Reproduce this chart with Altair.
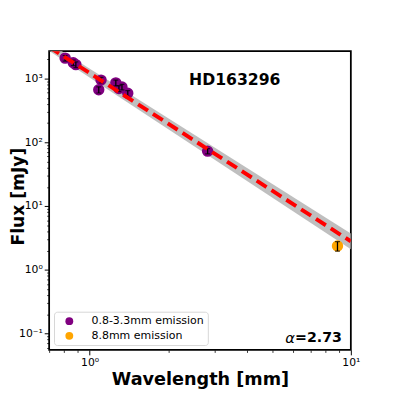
import altair as alt
import pandas as pd

# ---- data ----
wl_main = [0.806, 0.866, 0.886, 1.084, 1.106, 1.26, 1.295, 1.33, 1.40, 2.83]
flux_main = [2100, 1780, 1660, 670, 950, 860, 700, 740, 590, 72.7]
ferr_main = [210, 180, 170, 75, 95, 90, 75, 75, 60, 7]
wl_88 = [8.89]
flux_88 = [2.36]
ferr_88 = [0.4]

fit_wl = [0.7, 10.0]
fit_flux = [3140, 2.79]
band_lo = [2726, 2.10]
band_hi = [3617, 3.70]

groups = ["0.8-3.3mm emission", "8.8mm emission"]
colors = ["#800080", "#ffa500"]

x_major = [1, 10]
x_minor = [0.7, 0.8, 0.9, 2, 3, 4, 5, 6, 7, 8, 9]
y_major = [0.1, 1, 10, 100, 1000]
y_minor = [0.06, 0.07, 0.08, 0.09,
           0.2, 0.3, 0.4, 0.5, 0.6, 0.7, 0.8, 0.9,
           2, 3, 4, 5, 6, 7, 8, 9,
           20, 30, 40, 50, 60, 70, 80, 90,
           200, 300, 400, 500, 600, 700, 800, 900, 2000]

FONT = "DejaVu Sans"

pts = pd.DataFrame({
    "wl": wl_main + wl_88,
    "flux": flux_main + flux_88,
    "err": ferr_main + ferr_88,
    "grp": [groups[0]] * len(wl_main) + [groups[1]] * len(wl_88),
})
pts["lo"] = pts["flux"] - pts["err"]
pts["hi"] = pts["flux"] + pts["err"]

fit = pd.DataFrame({"wl": fit_wl, "flux": fit_flux, "lo": band_lo, "hi": band_hi})

xs = alt.Scale(type="log", domain=[0.7, 10], nice=False)
ys = alt.Scale(type="log", domain=[0.055, 2700], nice=False)

x_major_axis = alt.Axis(
    orient="bottom", values=x_major,
    labelExpr="datum.value < 5 ? '10⁰' : '10¹'",
    tickSize=5, tickWidth=1, tickColor="black", domain=False, grid=False,
    labelFontSize=11, labelFont=FONT, labelColor="black", labelPadding=2,
    labelFlush=False, labelOverlap=False,
    title="Wavelength [mm]", titleFont=FONT, titleFontSize=18,
    titleFontWeight="bold", titleColor="black", titlePadding=3,
)
y_major_axis = alt.Axis(
    orient="left", values=y_major,
    labelExpr="datum.value < 0.5 ? '10⁻¹' : datum.value < 5 ? '10⁰' : datum.value < 50 ? '10¹' : datum.value < 500 ? '10²' : '10³'",
    tickSize=5, tickWidth=1, tickColor="black", domain=False, grid=False,
    labelFontSize=11, labelFont=FONT, labelColor="black", labelPadding=2,
    labelFlush=False, labelOverlap=False,
    title="Flux [mJy]", titleFont=FONT, titleFontSize=17.5,
    titleFontWeight="bold", titleColor="black",
    titleX=-26.5, titleY=148, titleAngle=270, titleBaseline="alphabetic", titleAlign="center",
)
x_minor_axis = alt.Axis(
    orient="bottom", values=x_minor, labels=False, title="",
    tickSize=2.5, tickWidth=0.8, tickColor="black", domain=False, grid=False,
)
y_minor_axis = alt.Axis(
    orient="left", values=y_minor, labels=False, title="",
    tickSize=2.5, tickWidth=0.8, tickColor="black", domain=False, grid=False,
)

band = alt.Chart(fit).mark_area(color="#bfbfbf", clip=True).encode(
    x=alt.X("wl:Q", scale=xs, axis=x_major_axis),
    y=alt.Y("lo:Q", scale=ys, axis=y_major_axis),
    y2="hi:Q",
)

minor = alt.Chart(fit).mark_point(opacity=0).encode(
    x=alt.X("wl:Q", scale=xs, axis=x_minor_axis),
    y=alt.Y("flux:Q", scale=ys, axis=y_minor_axis),
)

points = alt.Chart(pts).mark_circle(size=135, opacity=1, clip=True).encode(
    x=alt.X("wl:Q", scale=xs, axis=None),
    y=alt.Y("flux:Q", scale=ys, axis=None),
    color=alt.Color(
        "grp:N",
        scale=alt.Scale(domain=groups, range=colors),
        legend=alt.Legend(
            title=None, orient="bottom-left", offset=5,
            fillColor="white", strokeColor="#d6d6d6", cornerRadius=3,
            padding=4, symbolType="circle", symbolSize=64,
            symbolStrokeWidth=0, symbolOffset=6, labelOffset=17,
            labelFont=FONT, labelFontSize=11.2, labelColor="black",
            rowPadding=3,
        ),
    ),
)

err_rules = alt.Chart(pts).mark_rule(color="black", strokeWidth=1.3, clip=True).encode(
    x=alt.X("wl:Q", scale=xs, axis=None),
    y=alt.Y("lo:Q", scale=ys, axis=None),
    y2="hi:Q",
)
cap_lo = alt.Chart(pts).mark_tick(color="black", orient="horizontal", size=5, thickness=1.2, clip=True).encode(
    x=alt.X("wl:Q", scale=xs, axis=None),
    y=alt.Y("lo:Q", scale=ys, axis=None),
)
cap_hi = alt.Chart(pts).mark_tick(color="black", orient="horizontal", size=5, thickness=1.2, clip=True).encode(
    x=alt.X("wl:Q", scale=xs, axis=None),
    y=alt.Y("hi:Q", scale=ys, axis=None),
)

line = alt.Chart(fit).mark_line(color="red", strokeWidth=4, strokeDash=[12, 6], clip=True).encode(
    x=alt.X("wl:Q", scale=xs, axis=None),
    y=alt.Y("flux:Q", scale=ys, axis=None),
)

name_txt = alt.Chart(pd.DataFrame({"t": ["HD163296"]})).mark_text(
    font=FONT, fontSize=16, fontWeight="bold", color="black", align="center", baseline="middle"
).encode(x=alt.value(189.5), y=alt.value(29.5), text="t:N")

alpha_sym = alt.Chart(pd.DataFrame({"t": ["α"]})).mark_text(
    font=FONT, fontSize=15, fontStyle="italic", color="black", align="right", baseline="middle"
).encode(x=alt.value(251), y=alt.value(293), text="t:N")

alpha_val = alt.Chart(pd.DataFrame({"t": ["=2.73"]})).mark_text(
    font=FONT, fontSize=14.5, fontWeight="bold", color="black", align="left", baseline="middle"
).encode(x=alt.value(251), y=alt.value(293), text="t:N")

chart = alt.layer(
    band, minor, points, err_rules, cap_lo, cap_hi, line, name_txt, alpha_sym, alpha_val
).resolve_axis(x="independent", y="independent").properties(
    width=308, height=305,
    autosize=alt.AutoSizeParams(type="none"),
    padding={"left": 42, "top": 40, "right": 41, "bottom": 46},
    background="white",
).configure_view(stroke="black", strokeWidth=1.8)

chart.save("out.html", embed_options={"renderer": "svg", "actions": False})
